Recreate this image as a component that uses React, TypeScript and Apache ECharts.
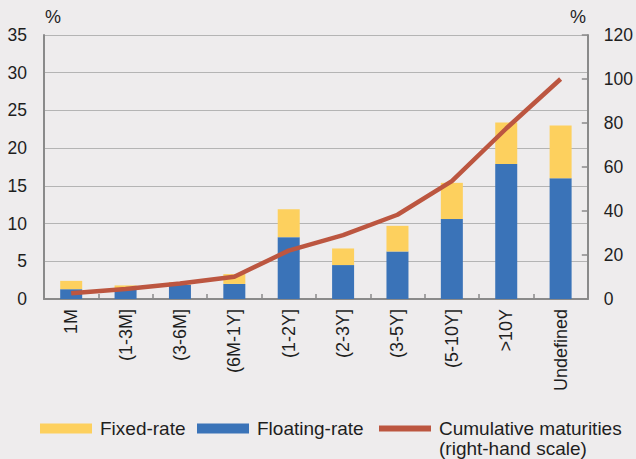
import React, { useEffect, useRef } from "react";
import * as echarts from "echarts";

// Maturity buckets
const categories = [
  "1M",
  "(1-3M]",
  "(3-6M]",
  "(6M-1Y]",
  "(1-2Y]",
  "(2-3Y]",
  "(3-5Y]",
  "(5-10Y]",
  ">10Y",
  "Undefined",
];

// Share of outstanding amount, per cent (left-hand scale)
const floatingRate = [1.3, 1.2, 1.9, 2.0, 8.2, 4.5, 6.3, 10.6, 17.9, 16.0];
const fixedRate = [1.1, 0.6, 0.35, 1.3, 3.7, 2.2, 3.4, 4.8, 5.5, 7.0];

// Cumulative maturities, per cent (right-hand scale)
const cumulative = [2.6, 4.5, 7.0, 10.1, 22.0, 29.0, 38.3, 53.6, 77.5, 100];

const leftTicks = { min: 0, max: 35, interval: 5 };
const rightTicks = { min: 0, max: 120, interval: 20 };

const BG = "#EEECED";
const BLUE = "#3A73B8";
const YELLOW = "#FDD05E";
const RED = "#BC5640";
const TEXT = "#1E1E1E";
const AXIS = "#8A8A8A";
const FONT = "Liberation Sans, Arial, sans-serif";

export default function App() {
  const ref = useRef<HTMLDivElement>(null);

  useEffect(() => {
    if (!ref.current) return;
    const chart = echarts.init(ref.current, null, { renderer: "svg" });
    const legendText = {
      fontSize: 19,
      color: TEXT,
      fontFamily: FONT,
      padding: [0, 0, 0, 3],
    };
    const legendBase = {
      top: 419,
      padding: 0,
      icon: "rect",
      itemWidth: 52,
      itemHeight: 10,
      textStyle: legendText,
    };
    chart.setOption({
      animation: false,
      backgroundColor: BG,
      textStyle: { fontFamily: FONT, color: TEXT },
      grid: { left: 44, right: 47, top: 35, bottom: 160, containLabel: false },
      legend: [
        {
          ...legendBase,
          left: 40,
          data: [{ name: "Fixed-rate", itemStyle: { color: YELLOW } }],
        },
        {
          ...legendBase,
          left: 197,
          data: [{ name: "Floating-rate", itemStyle: { color: BLUE } }],
        },
        {
          ...legendBase,
          left: 379,
          itemHeight: 6,
          data: [{ name: "Cumulative maturities", itemStyle: { color: RED } }],
        },
      ],
      graphic: [
        {
          type: "text",
          left: 439,
          top: 439,
          style: {
            text: "(right-hand scale)",
            font: `19px ${FONT}`,
            fill: TEXT,
          },
        },
        {
          type: "text",
          left: 45,
          top: 8,
          style: { text: "%", font: `18px ${FONT}`, fill: TEXT },
        },
        {
          type: "text",
          left: 570,
          top: 8,
          style: { text: "%", font: `18px ${FONT}`, fill: TEXT },
        },
      ],
      xAxis: {
        type: "category",
        data: categories,
        axisLine: { lineStyle: { color: AXIS, width: 2 } },
        axisTick: {
          show: true,
          inside: true,
          length: 5,
          lineStyle: { color: AXIS, width: 1.5 },
        },
        axisLabel: {
          rotate: 90,
          fontSize: 18,
          color: TEXT,
          fontFamily: FONT,
          margin: 10,
          interval: 0,
        },
      },
      yAxis: [
        {
          type: "value",
          ...leftTicks,
          position: "left",
          axisLine: { show: true, lineStyle: { color: AXIS, width: 2 } },
          axisTick: { show: false },
          splitLine: { show: true, lineStyle: { color: "#B4B4B4", width: 1.2 } },
          axisLabel: {
            fontSize: 17.5,
            color: TEXT,
            fontFamily: FONT,
            margin: 17,
          },
        },
        {
          type: "value",
          ...rightTicks,
          position: "right",
          axisLine: { show: true, lineStyle: { color: AXIS, width: 2 } },
          axisTick: {
            show: true,
            inside: true,
            length: 6,
            lineStyle: { color: AXIS, width: 1.5 },
          },
          splitLine: { show: false },
          axisLabel: {
            fontSize: 17.5,
            color: TEXT,
            fontFamily: FONT,
            margin: 16,
          },
        },
      ],
      series: [
        {
          name: "Floating-rate",
          type: "bar",
          stack: "share",
          data: floatingRate,
          barWidth: 22,
          itemStyle: { color: BLUE },
        },
        {
          name: "Fixed-rate",
          type: "bar",
          stack: "share",
          data: fixedRate,
          barWidth: 22,
          itemStyle: { color: YELLOW },
        },
        {
          name: "Cumulative maturities",
          type: "line",
          yAxisIndex: 1,
          data: cumulative,
          symbol: "none",
          lineStyle: { color: RED, width: 4.5 },
          itemStyle: { color: RED },
        },
      ],
    });
    return () => chart.dispose();
  }, []);

  return (
    <div
      ref={ref}
      style={{ position: "absolute", left: 0, top: 0, width: 636, height: 459 }}
    />
  );
}
